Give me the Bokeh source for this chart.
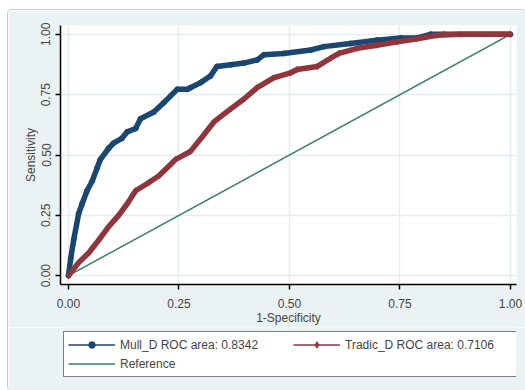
from bokeh.plotting import figure
from bokeh.layouts import column
from bokeh.models import Legend, LegendItem, FixedTicker, PrintfTickFormatter, Range1d
from bokeh.embed import file_html
from bokeh.resources import INLINE

# ---- data ----
mull_fpr = [0, 0.005, 0.012, 0.023, 0.031, 0.042, 0.054, 0.065, 0.072, 0.091, 0.102, 0.121,
            0.133, 0.152, 0.163, 0.193, 0.216, 0.246, 0.269, 0.276, 0.299, 0.321, 0.336, 0.367,
            0.397, 0.427, 0.442, 0.487, 0.548, 0.578, 0.638, 0.698, 0.751, 0.789, 0.819, 0.85, 1.0]
mull_tpr = [0, 0.07, 0.15, 0.257, 0.298, 0.352, 0.393, 0.447, 0.481, 0.528, 0.549, 0.569,
            0.596, 0.61, 0.65, 0.678, 0.718, 0.772, 0.772, 0.779, 0.8, 0.827, 0.867, 0.874,
            0.881, 0.894, 0.915, 0.921, 0.935, 0.949, 0.962, 0.976, 0.985, 0.985, 1.0, 1.0, 1.0]

tradic_fpr = [0, 0.023, 0.046, 0.069, 0.091, 0.114, 0.133, 0.152, 0.182, 0.204, 0.231, 0.242,
              0.276, 0.306, 0.329, 0.367, 0.397, 0.427, 0.464, 0.502, 0.517, 0.563, 0.593, 0.612,
              0.653, 0.698, 0.744, 0.789, 0.834, 0.887, 1.0]
tradic_tpr = [0, 0.054, 0.095, 0.149, 0.203, 0.251, 0.298, 0.352, 0.386, 0.413, 0.461, 0.481,
              0.515, 0.583, 0.637, 0.691, 0.732, 0.779, 0.82, 0.84, 0.854, 0.867, 0.901, 0.921,
              0.942, 0.955, 0.969, 0.982, 0.996, 1.0, 1.0]

ref_x = [0, 1]
ref_y = [0, 1]

tick_values = [0, 0.25, 0.5, 0.75, 1.0]
labels = ["Mull_D ROC area: 0.8342", "Tradic_D ROC area: 0.7106", "Reference"]

BLUE = "#1A476F"
RED = "#90353B"
GREEN = "#3B7F6B"
BG = "#EAF2F3"
FONT = "Liberation Sans"
W = 517

p = figure(width=W, height=317, output_backend="svg", toolbar_location=None,
           x_range=Range1d(-0.018, 1.0136), y_range=Range1d(-0.0366, 1.0366),
           min_border_left=52, min_border_right=9, min_border_top=15, min_border_bottom=38)
p.background_fill_color = "white"
p.border_fill_color = BG
p.outline_line_color = None

for ax in (p.xaxis[0], p.yaxis[0]):
    ax.ticker = FixedTicker(ticks=tick_values)
    ax.formatter = PrintfTickFormatter(format="%.2f")
    ax.minor_tick_line_color = None
    ax.major_tick_out = 5
    ax.major_tick_in = 0
    ax.axis_line_width = 1.5
    ax.major_tick_line_width = 1.5
    ax.major_label_text_font = FONT
    ax.major_label_text_font_size = "12px"
    ax.major_label_text_color = "#444444"
    ax.axis_label_text_font = FONT
    ax.axis_label_text_font_size = "12px"
    ax.axis_label_text_font_style = "normal"
    ax.axis_label_text_color = "#444444"

p.xaxis.axis_label = "1-Specificity"
p.yaxis.axis_label = "Sensitivity"
p.yaxis.major_label_orientation = "vertical"
p.xaxis.major_label_standoff = 9
p.yaxis.major_label_standoff = 5
p.xaxis.axis_label_standoff = 0
p.yaxis.axis_label_standoff = 1

p.grid.ticker = FixedTicker(ticks=tick_values)
p.grid.grid_line_color = "#E4EDEF"
p.grid.grid_line_width = 1.5

# curves
p.line(ref_x, ref_y, line_color=GREEN, line_width=1.5)
p.line(mull_fpr, mull_tpr, line_color=BLUE, line_width=5.5, line_join="round")
p.scatter(mull_fpr, mull_tpr, marker="circle", size=5, fill_color=BLUE, line_color=BLUE)
p.line(tradic_fpr, tradic_tpr, line_color=RED, line_width=5.5, line_join="round")
p.scatter(tradic_fpr, tradic_tpr, marker="diamond", size=6, fill_color=RED, line_color=RED)

# ---- legend panel (separate figure below the plot) ----
lf = figure(width=W, height=63, output_backend="svg", toolbar_location=None,
            x_range=Range1d(0, 1), y_range=Range1d(0, 1),
            min_border_left=0, min_border_right=0, min_border_top=0, min_border_bottom=0)
lf.axis.visible = False
lf.grid.visible = False
lf.background_fill_color = BG
lf.border_fill_color = BG
lf.outline_line_color = None

lg1 = lf.line([-5, -4], [-5, -4], line_color=BLUE, line_width=1.5)
lm1 = lf.scatter([-5], [-5], marker="circle", size=2.5, fill_color=BLUE, line_color=BLUE, line_width=0.5)
lg2 = lf.line([-5, -4], [-5, -4], line_color=RED, line_width=1.5)
lm2 = lf.scatter([-5], [-5], marker="diamond", size=8, fill_color=RED, line_color=RED, line_width=0.5)
lg3 = lf.line([-5, -4], [-5, -4], line_color=GREEN, line_width=1.5)

legend = Legend(items=[LegendItem(label=labels[0], renderers=[lg1, lm1]),
                       LegendItem(label=labels[1], renderers=[lg2, lm2]),
                       LegendItem(label=labels[2], renderers=[lg3])],
                orientation="horizontal", ncols=2, location=(3, 13),
                border_line_color="black", border_line_width=1.5,
                background_fill_color="white", background_fill_alpha=1.0,
                glyph_width=47, glyph_height=17, label_width=171, label_height=17,
                spacing=2, padding=4, margin=0, label_standoff=5,
                label_text_font=FONT, label_text_font_size="12px",
                label_text_color="#444444")
lf.add_layout(legend, "center")

layout = column(p, lf, spacing=0, margin=(9, 0, 0, 7),
                styles={"border": "1px solid #C5CDCF", "border-radius": "4px"})
open("out.html", "w").write(file_html(layout, INLINE))
